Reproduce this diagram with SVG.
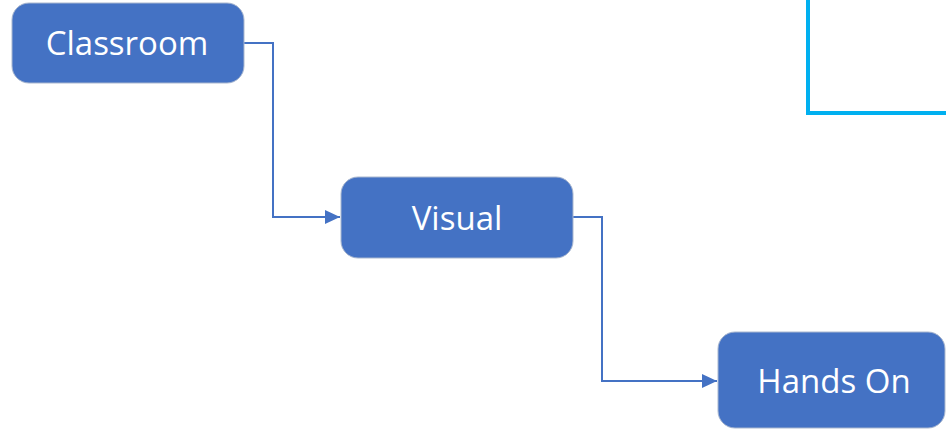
<svg xmlns="http://www.w3.org/2000/svg" width="946" height="429" viewBox="0 0 946 429">
<style>
.box{fill:#4472C4;stroke:#A9B7CF;stroke-width:1}
.lbl{font-family:"Open Sans","Liberation Sans",sans-serif;font-size:33px;fill:#FFFFFF;text-anchor:middle}
.conn{fill:none;stroke:#4472C4;stroke-width:2}
</style>
<defs>
<marker id="arr" viewBox="0 0 10 10" refX="10" refY="5" markerWidth="15" markerHeight="14" markerUnits="userSpaceOnUse" orient="auto" preserveAspectRatio="none">
<path d="M0,0 L10,5 L0,10 Z" fill="#4472C4"/>
</marker>
</defs>
<rect width="946" height="429" fill="#FFFFFF"/>
<path d="M808,0 V113 H946" fill="none" stroke="#00B0F0" stroke-width="4"/>
<g id="connectors">
<path class="conn" d="M244,43 H273 V217 H340" marker-end="url(#arr)"/>
<path class="conn" d="M573,217 H602 V381 H717" marker-end="url(#arr)"/>
</g>
<g id="classroom">
<rect class="box" x="12" y="3" width="232" height="80" rx="17"/>
<text class="lbl" x="127" y="55">Classroom</text>
</g>
<g id="visual">
<rect class="box" x="341" y="177" width="232" height="81" rx="17"/>
<text class="lbl" x="457" y="230">Visual</text>
</g>
<g id="handson">
<rect class="box" x="718" y="332" width="227" height="96" rx="17"/>
<text class="lbl" x="834" y="393">Hands On</text>
</g>
</svg>
